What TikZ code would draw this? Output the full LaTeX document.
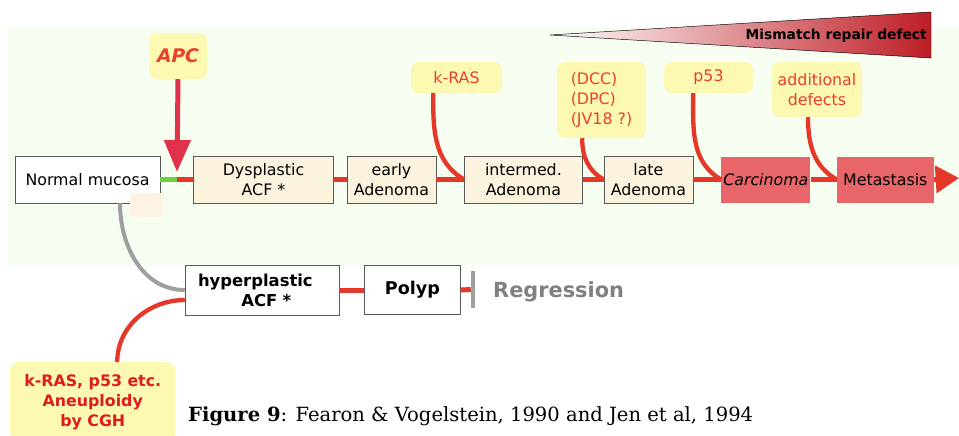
\documentclass[tikz,border=0pt]{standalone}
\usepackage{fontspec}
\setmainfont{DejaVu Serif}
\newfontfamily\comicfont{DejaVu Sans}
\usetikzlibrary{arrows.meta,positioning}
\definecolor{bgfill}{RGB}{246,253,241}
\definecolor{stagefill}{RGB}{251,243,221}
\definecolor{tumorfill}{RGB}{232,102,106}
\definecolor{genefill}{RGB}{253,248,178}
\definecolor{genered}{RGB}{232,64,42}
\definecolor{cghred}{RGB}{222,28,28}
\definecolor{pathred}{RGB}{230,56,40}
\definecolor{apcred}{RGB}{224,50,74}
\definecolor{normgreen}{RGB}{110,210,60}
\definecolor{patchfill}{RGB}{253,243,227}
\definecolor{wedgered}{RGB}{190,30,38}
\tikzset{
    stagebox/.style={rectangle,draw=black!65,fill=stagefill,align=center,minimum height=14.1mm,inner sep=1pt,font=\comicfont\fontsize{13.5}{17}\selectfont},
    tumorbox/.style={rectangle,fill=tumorfill,align=center,minimum height=13.8mm,inner sep=1pt,font=\comicfont\fontsize{13.5}{17}\selectfont},
    hyperbox/.style={rectangle,draw=black!65,fill=white,align=center,minimum height=15mm,inner sep=1pt,font=\comicfont\bfseries\fontsize{14}{17}\selectfont},
    genebox/.style={rectangle,rounded corners=2.4mm,fill=genefill,text=genered,align=center,inner sep=1pt,font=\comicfont\fontsize{13.5}{17}\selectfont},
    pathline/.style={line width=1.5mm,pathred},
    genecurve/.style={line width=1.3mm,pathred},
    normline/.style={line width=1.5mm,normgreen},
    branchcurve/.style={line width=1.2mm,gray!75},
    apcarrow/.style={-{Triangle[length=9.6mm,width=7.8mm]},line width=1.5mm,apcred},
    exitarrow/.style={-{Triangle[length=7mm,width=8mm]},line width=1.5mm,pathred}
}

\begin{document}
\begin{tikzpicture}[x=0.3mm,y=-0.3mm]
    \useasboundingbox (0,0) rectangle (959,435);
    \fill[bgfill] (8,27) rectangle (959,265);
    \shadedraw[left color=white,right color=wedgered,draw=black,line width=0.4pt] (550,35) -- (931,12) -- (931,58) -- cycle;
    \node[anchor=east,inner sep=0,font=\comicfont\bfseries\fontsize{11.8}{14}\selectfont] (mmr) at (927,36) {Mismatch repair defect};

    \node[stagebox,fill=white,minimum width=43.5mm] (normal) at (87.5,179.5) {Normal mucosa};
    \fill[patchfill] (130,193) rectangle (163,217);
    \node[stagebox,minimum width=42mm,right=9.9mm of normal] (dys) {Dysplastic\\ACF *};
    \node[stagebox,minimum width=26.7mm,right=3.9mm of dys] (early) {early\\Adenoma};
    \node[stagebox,minimum width=35.4mm,right=8.4mm of early] (inter) {intermed.\\Adenoma};
    \node[stagebox,minimum width=26.7mm,right=6.3mm of inter] (late) {late\\Adenoma};
    \node[tumorbox,minimum width=26.7mm,right=8.4mm of late] (carc) {\itshape Carcinoma};
    \node[tumorbox,minimum width=29.1mm,right=7.8mm of carc] (meta) {Metastasis};
    \coordinate (apcjoin) at (177,179.5);
    \coordinate (apctip) at (177,172);
    \coordinate (exit) at (959,178);

    \node[genebox,minimum width=17.4mm,minimum height=13.8mm,font=\comicfont\bfseries\itshape\fontsize{16}{18}\selectfont] (apc) at (178,56) {APC};
    \node[genebox,minimum width=27.3mm,minimum height=9.3mm] (kras) at (456.5,77.5) {k-RAS};
    \node[genebox,minimum width=26.7mm,minimum height=22.8mm,align=left] (dcc) at (601.5,100) {(DCC)\\(DPC)\\(JV18 ?)};
    \node[genebox,minimum width=26.7mm,minimum height=9.3mm] (p53) at (708.5,77.5) {p53};
    \node[genebox,minimum width=27mm,minimum height=16.5mm] (addl) at (817,89.5) {additional\\defects};

    \draw[normline] (normal.east) -- (apcjoin);
    \draw[pathline] (apcjoin) -- (dys.west);
    \draw[pathline] (dys.east) -- (early.west);
    \draw[pathline] (early.east) -- (inter.west);
    \draw[pathline] (inter.east) -- (late.west);
    \draw[pathline] (late.east) -- (carc.west);
    \draw[pathline] (carc.east) -- (meta.west);
    \draw[exitarrow] (meta.east) -- (exit);
    \draw[apcarrow] (apc.south) -- (apctip);
    \draw[genecurve] ([xshift=-7mm]kras.south) to[out=-90,in=150] (inter.west);
    \draw[genecurve] ([xshift=-5.8mm]dcc.south) to[out=-90,in=150] (late.west);
    \draw[genecurve] ([xshift=-4.6mm]p53.south) to[out=-90,in=150] (carc.west);
    \draw[genecurve] ([xshift=-2.7mm]addl.south) to[out=-90,in=150] (meta.west);

    \node[hyperbox,minimum width=46.2mm,text width=38.4mm,inner xsep=3.9mm,align=left] (hyper) at (262,290) {hyperplastic\\\hspace*{13mm}ACF *};
    \node[hyperbox,minimum width=28.8mm,minimum height=14.7mm,font=\comicfont\bfseries\fontsize{15}{17}\selectfont,right=7.5mm of hyper] (polyp) {Polyp};
    \node[fill=gray!75,minimum width=1.2mm,minimum height=11mm,inner sep=0] (stopbar) at (473,289.5) {};
    \node[anchor=west,inner sep=0,text=gray,font=\comicfont\bfseries\fontsize{17.8}{20}\selectfont] (regr) at (493,292) {Regression};
    \draw[pathline] (hyper.east) -- (polyp.west);
    \draw[pathline] (polyp.east) -- (stopbar.west);
    \draw[branchcurve] ([xshift=9.75mm]normal.south) to[out=-90,in=180] (hyper.west);

    \node[genebox,text=cghred,minimum width=49.5mm,minimum height=24mm,font=\comicfont\bfseries\fontsize{13.5}{17}\selectfont,anchor=north west] (cgh) at (10,362) {k-RAS, p53 etc.\\Aneuploidy\\by CGH};
    \draw[genecurve] ([yshift=-3mm]hyper.west) to[out=180,in=90] ([xshift=7.35mm]cgh.north);

    \node[anchor=base west,inner sep=0,font=\fontsize{16.7}{20}\selectfont] (caption) at (188,421.5) {\textbf{Figure 9}: Fearon \& Vogelstein, 1990 and Jen et al, 1994};
\end{tikzpicture}
\end{document}
